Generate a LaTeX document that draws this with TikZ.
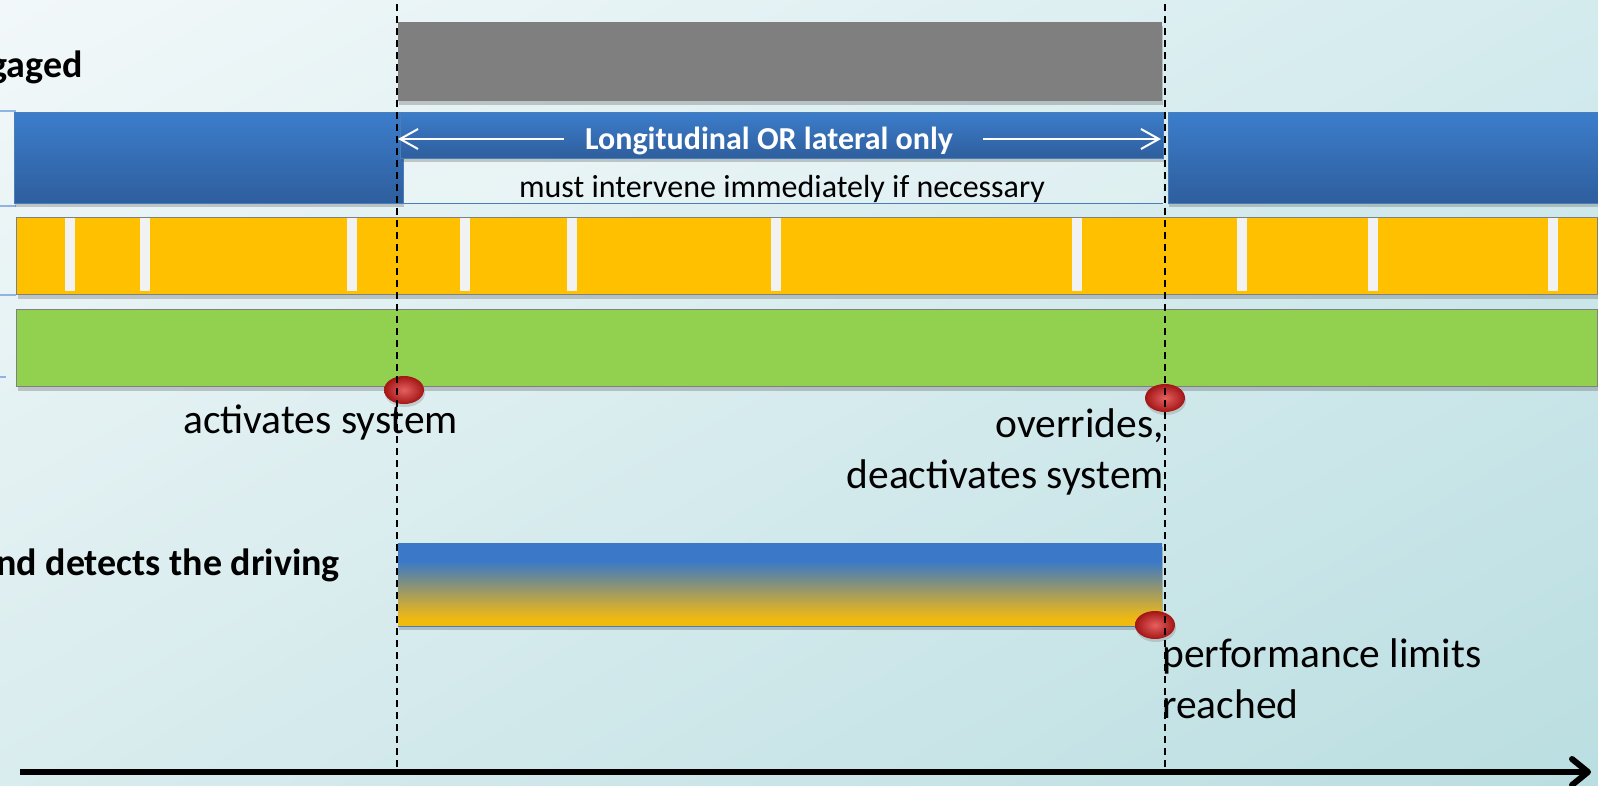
\documentclass[tikz,border=0pt]{standalone}
\usepackage{fontspec}
\setmainfont{Carlito}
\usetikzlibrary{shapes.geometric,shadows,shadings,arrows.meta}

% palette
\definecolor{bgUL}{HTML}{F2F8F9}
\definecolor{bgUR}{HTML}{D4EBEE}
\definecolor{bgLL}{HTML}{D9ECEE}
\definecolor{bgLR}{HTML}{BADEE1}
\definecolor{barGray}{HTML}{7F7F7F}
\definecolor{blueTop}{HTML}{3C7DCB}
\definecolor{blueBot}{HTML}{2E5E9D}
\definecolor{blueEdge}{HTML}{4A7EBB}
\definecolor{tableLine}{HTML}{8DB4E2}
\definecolor{laneYellow}{HTML}{FFC000}
\definecolor{laneGreen}{HTML}{92D050}
\definecolor{laneEdge}{HTML}{808080}
\definecolor{gapMark}{HTML}{F2F2F2}
\definecolor{gY}{HTML}{F1BA0F}
\definecolor{gG}{HTML}{C9AA3C}
\definecolor{gM}{HTML}{86927A}
\definecolor{gB}{HTML}{3B79C8}
\definecolor{dotIn}{HTML}{E66060}
\definecolor{dotOut}{HTML}{A31515}

% blue-to-yellow fade of the lower bar (visible part is 25bp..75bp)
\pgfdeclareverticalshading{handover}{100bp}{color(0bp)=(gY); color(25bp)=(gY); color(29bp)=(gY); color(38bp)=(gG); color(50bp)=(gM); color(64bp)=(gB); color(75bp)=(gB); color(100bp)=(gB)}

\newcommand\biglabel{\fontsize{41.5}{50}\selectfont}
\newcommand\rowlabel{\fontsize{38}{46}\selectfont\bfseries}
\newcommand\celltext{\fontsize{32}{38}\selectfont}

\tikzset{
  bar/.style={rectangle, inner sep=0pt, anchor=north west},
  softshadow/.style={drop shadow={shadow xshift=1pt, shadow yshift=-4pt, opacity=.28, fill=black!70}},
  graybar/.style={bar, fill=barGray, softshadow},
  bluebar/.style={bar, top color=blueTop, bottom color=blueBot, draw=blueEdge, line width=.8pt, softshadow},
  lane/.style={bar, draw=laneEdge, line width=1.2pt, softshadow},
  gapbar/.style={bar, fill=gapMark, minimum width=10pt, minimum height=73pt},
  event/.style={ellipse, inner sep=0pt, minimum width=40pt, minimum height=28pt,
     inner color=dotIn, outer color=dotOut, drop shadow={shadow xshift=1pt, shadow yshift=-3pt, opacity=.3}},
  label/.style={inner sep=0pt, text=black},
  marker/.style={black, line width=2.2pt, dash pattern=on 7pt off 5pt},
  spanarrow/.style={white, line width=2pt, -{Straight Barb[length=18pt,width=20pt]}},
  timeaxis/.style={black, line width=6pt, -{Straight Barb[length=16pt,width=26pt,round]}},
  tableline/.style={tableLine, line width=1.5pt}
}

\begin{document}
\begin{tikzpicture}[x=1pt,y=-1pt]
  \useasboundingbox (0,0) rectangle (1598,786);
  \clip (0,0) rectangle (1598,786);

  % backdrop
  \shade[upper left=bgUL, upper right=bgUR, lower left=bgLL, lower right=bgLR]
    (0,0) rectangle (1598,786);

  % stubs of the table grid on the left edge
  \draw[tableline] (0,111) -- (16,111);
  \draw[tableline] (0,206) -- (16,206);
  \draw[tableline] (0,295) -- (16,295);
  \draw[tableline] (0,377) -- (6,377);

  % row titles
  \node[label, anchor=base east] (rowA) at (83,78) {\rowlabel gaged};
  \node[label, anchor=base east] (rowB) at (340,575) {\rowlabel nd detects the driving};

  % system engaged
  \node[graybar, minimum width=764pt, minimum height=79pt] (engaged) at (398,22) {};

  % driver control lane
  \node[bluebar, minimum width=389pt, minimum height=91pt] (ctlL) at (14,112) {};
  \node[bluebar, minimum width=440pt, minimum height=91pt] (ctlR) at (1168,112) {};
  \node[bar, fill=white, fill opacity=.22, minimum width=760pt, minimum height=45pt] (cell) at (403,158) {};
  \draw[blueEdge, line width=1pt] (cell.north west) -- (cell.south west) -- (cell.south east);
  \node[bluebar, minimum width=763pt, minimum height=46pt] (ctlM) at (400,112) {};

  \coordinate (aL0) at (564,139);
  \coordinate (aL1) at (398,139);
  \coordinate (aR0) at (983,139);
  \coordinate (aR1) at (1161,139);
  \draw[spanarrow] (aL0) -- (aL1);
  \draw[spanarrow] (aR0) -- (aR1);
  \node[label, text=white, anchor=base] (span) at (769,150)
    {\celltext\bfseries Longitudinal OR lateral only};
  \node[label, anchor=base] (duty) at (782,198)
    {\celltext must intervene immediately if necessary};

  % attention lane with short gaps
  \node[lane, fill=laneYellow, minimum width=1581pt, minimum height=77pt] (watch) at (16,217) {};
  \foreach \gx in {65,140,347,460,567,771,1072,1237,1368,1548}
    \node[gapbar] at (\gx,218) {};

  % availability lane
  \node[lane, fill=laneGreen, minimum width=1581pt, minimum height=77pt] (avail) at (16,309) {};

  % handover bar
  \node[bar, shading=handover, minimum width=764pt, minimum height=83pt, softshadow] (assist) at (398,543) {};
  \draw[blueEdge, line width=1.2pt] (assist.south west) -- (assist.south east);

  % events
  \node[event] (evOn) at (404,390) {};
  \node[event] (evOff) at (1165,398) {};
  \node[event] (evLim) at (1155,625) {};

  \node[label, anchor=base west] (txtOn) at (183,433) {\biglabel activates system};
  \node[label, anchor=base east] (txtOff1) at (1164,437) {\biglabel overrides,};
  \node[label, anchor=base east] (txtOff2) at (1164,488) {\biglabel deactivates system};
  \node[label, anchor=base west] (txtLim1) at (1162,667) {\biglabel performance limits};
  \node[label, anchor=base west] (txtLim2) at (1162,718) {\biglabel reached};

  % time axis
  \coordinate (t0) at (20,772);
  \coordinate (t1) at (1591,772);
  \draw[timeaxis] (t0) -- (t1);

  % switching instants
  \coordinate (sA0) at (397,4);
  \coordinate (sA1) at (397,771);
  \coordinate (sB0) at (1165,4);
  \coordinate (sB1) at (1165,771);
  \draw[marker] (sA0) -- (sA1);
  \draw[marker] (sB0) -- (sB1);
\end{tikzpicture}
\end{document}
